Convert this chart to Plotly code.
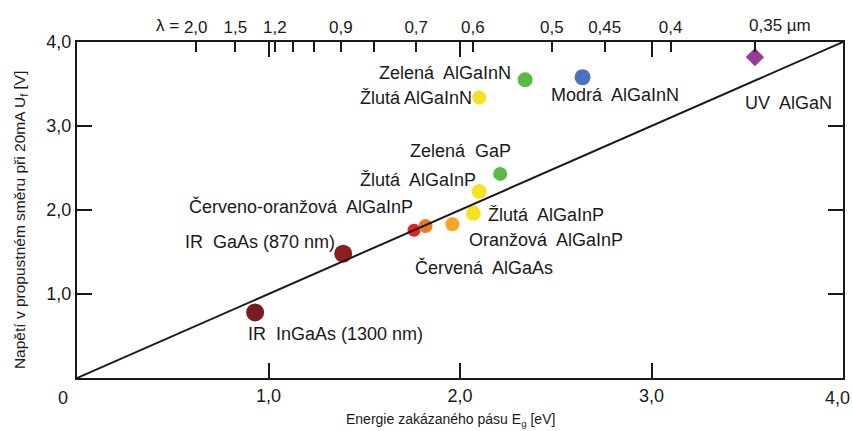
import plotly.graph_objects as go

# LED materials: band-gap energy Eg [eV] vs forward voltage Uf at 20 mA [V]
materials = [
    "IR InGaAs (1300 nm)", "IR GaAs (870 nm)", "Červená AlGaAs",
    "Červeno-oranžová AlGaInP", "Oranžová AlGaInP", "Žlutá AlGaInP (1)",
    "Žlutá AlGaInP (2)", "Zelená GaP", "Žlutá AlGaInN", "Zelená AlGaInN",
    "Modrá AlGaInN", "UV AlGaN",
]
energy_ev = [0.93, 1.39, 1.76, 1.82, 1.96, 2.07, 2.10, 2.21, 2.10, 2.34, 2.64, 3.54]
voltage_v = [0.78, 1.48, 1.76, 1.81, 1.83, 1.96, 2.22, 2.43, 3.34, 3.55, 3.58, 3.82]

# Wavelength scale on the top axis (µm); E = 1.24 / λ
wavelength_um = [2.0, 1.5, 1.2, 1.1, 1.0, 0.9, 0.8, 0.7, 0.6, 0.5, 0.45, 0.4, 0.35]
wavelength_labels = ["2,0", "1,5", "1,2", "", "", "0,9", "", "0,7", "0,6", "0,5", "0,45", "0,4", ""]

x_ticks = [0, 1, 2, 3, 4]
x_tick_labels = ["", "1,0", "2,0", "3,0", ""]
y_ticks = [0, 1, 2, 3, 4]
y_tick_labels = ["", "1,0", "2,0", "3,0", "4,0"]

# Marker styling
marker_colors = ["#7a1b1d", "#8c1f20", "#e3202a", "#e77a2b", "#f6a623", "#f6e223",
                 "#f6e223", "#5bb847", "#f6e223", "#5bb847", "#4a72c0", "#993a96"]
marker_sizes = [18, 18, 13, 14, 14, 15, 15, 14, 14, 15, 16, 14]
marker_symbols = ["circle"] * 11 + ["diamond"]

# Label text and placement (left edge x, centre y in data units)
NB = "\u00a0"
label_texts = [
    f"IR{NB} InGaAs (1300 nm)", f"IR{NB} GaAs (870 nm)", f"Červená{NB} AlGaAs",
    f"Červeno-oranžová{NB} AlGaInP", f"Oranžová{NB} AlGaInP", f"Žlutá{NB} AlGaInP",
    f"Žlutá{NB} AlGaInP", f"Zelená{NB} GaP", "Žlutá AlGaInN", f"Zelená{NB} AlGaInN",
    f"Modrá{NB} AlGaInN", f"UV{NB} AlGaN",
]
label_pos = [
    (0.880, 0.524), (0.556, 1.619), (1.752, 1.310),
    (0.572, 2.036), (2.039, 1.643), (2.138, 1.940),
    (1.465, 2.357), (1.731, 2.706), (1.465, 3.333), (1.569, 3.631),
    (2.467, 3.369), (3.480, 3.274),
]

FONT = "Liberation Sans, Arial, sans-serif"
INK = "#1a1a1a"

fig = go.Figure()

# Reference line U = Eg, on the top (wavelength) axis so that axis is rendered
fig.add_trace(go.Scatter(
    x=[0, 4], y=[0, 4], mode="lines", xaxis="x2", yaxis="y",
    line=dict(color=INK, width=2), hoverinfo="skip", showlegend=False,
))

fig.add_trace(go.Scatter(
    x=energy_ev, y=voltage_v, mode="markers", text=materials,
    marker=dict(color=marker_colors, size=marker_sizes, symbol=marker_symbols,
                opacity=1, line=dict(width=0)),
    showlegend=False,
))

annotations = []
for txt, (lx, ly) in zip(label_texts, label_pos):
    annotations.append(dict(
        x=lx, y=ly, xref="x", yref="y", text=txt, showarrow=False,
        xanchor="left", yanchor="middle", font=dict(size=18, color=INK, family=FONT),
    ))

# "0" at the origin, set to the left of the corner
annotations.append(dict(x=0, y=0, xref="x", yref="y", text="0", showarrow=False,
                        xanchor="center", yanchor="top", xshift=-14, yshift=-8,
                        font=dict(size=18, color=INK, family=FONT)))
# "4,0" at the right end, kept inside the page edge
annotations.append(dict(x=4, y=0, xref="x", yref="y", text="4,0", showarrow=False,
                        xanchor="right", yanchor="top", xshift=9, yshift=-8,
                        font=dict(size=18, color=INK, family=FONT)))
# Top axis prefix and last label with unit
annotations.append(dict(x=1.24 / wavelength_um[0], y=1, xref="x", yref="paper",
                        text="λ =", showarrow=False, xanchor="right", yanchor="middle",
                        xshift=-15, yshift=17, font=dict(size=17, color=INK, family=FONT)))
annotations.append(dict(x=1.24 / wavelength_um[-1], y=1, xref="x", yref="paper",
                        text="0,35 µm", showarrow=False, xanchor="left", yanchor="middle",
                        xshift=-8, yshift=17, font=dict(size=17, color=INK, family=FONT)))
# Axis titles
annotations.append(dict(x=0.488, y=0, xref="paper", yref="paper",
                        text="Energie zakázaného pásu E<sub>g</sub> [eV]", showarrow=False,
                        xanchor="center", yanchor="middle", yshift=-42,
                        font=dict(size=14, color=INK, family=FONT)))
annotations.append(dict(x=0, y=0.47, xref="paper", yref="paper",
                        text="Napětí v propustném směru při 20mA U<sub>f</sub> [V]",
                        showarrow=False, textangle=-90, xanchor="center", yanchor="middle",
                        xshift=-57, font=dict(size=15.5, color=INK, family=FONT)))

axis_common = dict(
    range=[0, 4], showgrid=False, zeroline=False, fixedrange=True, automargin=False,
    tickfont=dict(size=18, color=INK, family=FONT),
)

fig.update_layout(
    width=853, height=431,
    margin=dict(l=77, r=10, t=42, b=53, pad=0, autoexpand=False),
    paper_bgcolor="white", plot_bgcolor="white",
    font=dict(family=FONT, color=INK),
    xaxis=dict(**axis_common, showline=True, linewidth=2, linecolor=INK, mirror="all",
               ticks="inside", ticklen=15, tickwidth=2, tickcolor=INK,
               ticklabeloverflow="allow",
               tickmode="array", tickvals=x_ticks, ticktext=x_tick_labels),
    xaxis2=dict(range=[0, 4], overlaying="x", side="top", anchor="y", automargin=False,
                showgrid=False, zeroline=False, showline=False, fixedrange=True,
                ticks="inside", ticklen=10, tickwidth=2, tickcolor=INK,
                ticklabelstandoff=5, ticklabeloverflow="allow",
                tickmode="array", tickvals=[1.24 / w for w in wavelength_um],
                ticktext=wavelength_labels,
                tickfont=dict(size=17, color=INK, family=FONT)),
    yaxis=dict(**axis_common, showline=True, linewidth=2, linecolor=INK, mirror="all",
               ticks="inside", ticklen=15, tickwidth=2, tickcolor=INK,
               tickmode="array", tickvals=y_ticks, ticktext=y_tick_labels),
    annotations=annotations,
)

fig.write_html("out.html")
